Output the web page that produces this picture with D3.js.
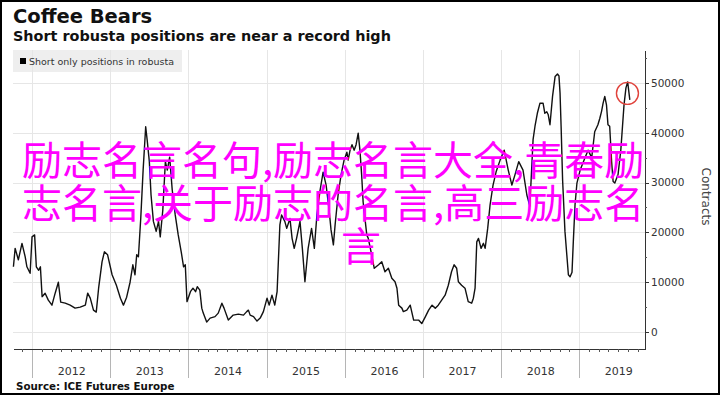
<!DOCTYPE html>
<html>
<head>
<meta charset="utf-8">
<script src="https://cdn.jsdelivr.net/npm/d3@7"></script>
<style>
  body { margin: 0; background: #fff; }
  svg { display: block; font-family: "DejaVu Sans", Verdana, sans-serif; }
  .axis path, .axis line { shape-rendering: crispEdges; }
</style>
</head>
<body>
<div class="chart"></div>
<script>
// Chart data
var titleText = "Coffee Bears";
var subtitleText = "Short robusta positions are near a record high";
var legendText = "Short only positions in robusta";
var sourceText = "Source: ICE Futures Europe";
var axisTitle = "Contracts";
var overlayLines = ["励志名言名句,励志名言大全,青春励", "志名言,关于励志的名言,高三励志名", "言"];

var years = [2012, 2013, 2014, 2015, 2016, 2017, 2018, 2019];
var yTicks = [0, 10000, 20000, 30000, 40000, 50000];

var dates = [
  "2011-10-06", "2011-10-14", "2011-10-29", "2011-11-15", "2011-11-30", "2011-12-08", "2011-12-23", "2012-01-01", "2012-01-13", "2012-01-21",
  "2012-02-01", "2012-02-09", "2012-02-17", "2012-03-02", "2012-03-17", "2012-04-03", "2012-04-18", "2012-05-03", "2012-05-14", "2012-06-04",
  "2012-06-27", "2012-07-20", "2012-08-13", "2012-09-06", "2012-09-17", "2012-09-29", "2012-10-14", "2012-10-27", "2012-11-07", "2012-11-23",
  "2012-12-04", "2012-12-19", "2013-01-09", "2013-01-29", "2013-02-17", "2013-03-03", "2013-03-18", "2013-04-03", "2013-04-16", "2013-04-26",
  "2013-05-04", "2013-05-12", "2013-05-23", "2013-06-03", "2013-06-15", "2013-06-22", "2013-07-02", "2013-07-10", "2013-07-21", "2013-08-03",
  "2013-08-14", "2013-08-22", "2013-09-03", "2013-09-15", "2013-09-24", "2013-10-05", "2013-10-17", "2013-10-31", "2013-11-14", "2013-11-28",
  "2013-12-09", "2013-12-17", "2013-12-25", "2014-01-10", "2014-01-22", "2014-02-03", "2014-02-11", "2014-02-23", "2014-03-04", "2014-03-11",
  "2014-03-27", "2014-04-12", "2014-05-05", "2014-05-20", "2014-06-06", "2014-06-16", "2014-07-06", "2014-07-29", "2014-08-22", "2014-09-15",
  "2014-09-30", "2014-10-08", "2014-10-16", "2014-11-01", "2014-11-17", "2014-12-02", "2014-12-17", "2015-01-03", "2015-01-13", "2015-01-26",
  "2015-02-08", "2015-02-19", "2015-03-04", "2015-03-12", "2015-03-27", "2015-04-05", "2015-04-20", "2015-04-30", "2015-05-10", "2015-05-21",
  "2015-06-06", "2015-06-17", "2015-06-29", "2015-07-14", "2015-07-30", "2015-08-12", "2015-08-24", "2015-09-08", "2015-09-22", "2015-10-06",
  "2015-10-20", "2015-10-29", "2015-11-09", "2015-11-17", "2015-12-01", "2015-12-15", "2015-12-29", "2016-01-11", "2016-01-17", "2016-01-26",
  "2016-02-04", "2016-02-14", "2016-02-23", "2016-03-04", "2016-03-12", "2016-03-20", "2016-03-27", "2016-04-13", "2016-04-20", "2016-05-06",
  "2016-05-18", "2016-06-07", "2016-06-22", "2016-07-07", "2016-07-23", "2016-08-08", "2016-08-23", "2016-09-01", "2016-09-09", "2016-09-24",
  "2016-10-01", "2016-10-17", "2016-11-02", "2016-11-18", "2016-12-11", "2016-12-26", "2017-01-12", "2017-01-27", "2017-02-12", "2017-02-27",
  "2017-03-13", "2017-03-29", "2017-04-14", "2017-04-29", "2017-05-14", "2017-05-26", "2017-06-07", "2017-06-15", "2017-06-30", "2017-07-16",
  "2017-07-31", "2017-08-16", "2017-08-24", "2017-09-01", "2017-09-09", "2017-09-17", "2017-09-29", "2017-10-10", "2017-10-18", "2017-10-30",
  "2017-11-10", "2017-11-24", "2017-12-08", "2017-12-27", "2018-01-15", "2018-02-03", "2018-02-20", "2018-03-06", "2018-03-24", "2018-04-13",
  "2018-05-01", "2018-05-15", "2018-05-30", "2018-06-08", "2018-06-19", "2018-07-01", "2018-07-16", "2018-07-24", "2018-08-02", "2018-08-09",
  "2018-08-17", "2018-08-29", "2018-09-10", "2018-09-21", "2018-09-28", "2018-10-03", "2018-10-08", "2018-10-15", "2018-10-26", "2018-11-11",
  "2018-11-19", "2018-11-28", "2018-12-04", "2018-12-12", "2018-12-21", "2019-01-05", "2019-01-23", "2019-02-11", "2019-02-28", "2019-03-14",
  "2019-03-29", "2019-04-07", "2019-04-15", "2019-04-22", "2019-04-30", "2019-05-08", "2019-05-15", "2019-05-23", "2019-06-01", "2019-06-08",
  "2019-06-16", "2019-07-01", "2019-07-14", "2019-07-29", "2019-08-07", "2019-08-15", "2019-08-25"
];

var shorts = [
  13100, 16800, 14500, 17800, 15100, 13100, 11800, 19100, 19500, 13100,
  12400, 13100, 7100, 7800, 6400, 5400, 7800, 10000, 6000, 5800,
  5400, 4800, 5000, 5400, 7800, 6800, 4400, 4000, 8800, 14100,
  16100, 15500, 11500, 9400, 6800, 5400, 7000, 10000, 13500, 11500,
  15500, 15100, 22900, 32500, 41200, 38500, 34200, 27500, 22200, 20200,
  22200, 19100, 24500, 34200, 32500, 35100, 28500, 23500, 19500, 16100,
  13100, 13500, 6100, 8100, 8800, 8100, 9100, 8400, 4800, 3800,
  2000, 2800, 3100, 3800, 5800, 4800, 2400, 3400, 3600, 3400,
  4100, 4400, 3400, 3100, 2200, 2800, 4100, 6800, 5400, 7400,
  5400, 8100, 21500, 23500, 22200, 20800, 22800, 18800, 16800, 18800,
  22200, 16800, 10100, 16800, 20800, 16800, 23500, 28500, 32100, 29500,
  24500, 20500, 17500, 21500, 27500, 31600, 34500, 36100, 34500, 36500,
  37600, 36500, 37600, 39900, 36500, 31600, 26100, 19500, 18800, 15500,
  12800, 13500, 14100, 12100, 12800, 10800, 10100, 8800, 5400, 4800,
  4100, 4400, 5400, 2400, 2400, 1700, 3100, 4400, 5400, 4800,
  5400, 6400, 7400, 9400, 12100, 13500, 12800, 10100, 9400, 8800,
  6100, 5800, 6800, 8800, 18100, 18800, 16800, 17800, 16800, 20800,
  25500, 29500, 32100, 34500, 36500, 32500, 29500, 31500, 34200, 32500,
  27500, 25300, 38600, 41300, 43900, 45900, 45900, 43900, 44200, 43600,
  41600, 47300, 51300, 51800, 51400, 48000, 41300, 30500, 20200, 11500,
  11100, 12000, 18100, 25500, 29900, 32500, 34500, 36500, 35000, 40200,
  41600, 42900, 44300, 45900, 47300, 45600, 41600, 41300, 34200, 30200,
  29900, 31600, 36500, 45600, 49000, 50200, 46600
];

// the circled point near the latest high
var markDate = "2019-08-14";
var markValue = 47900;

var svgWidth = 720;
var svgHeight = 395;
var plot = { left: 13, right: 645, top: 50, bottom: 349 };

var parseDate = d3.timeParse("%Y-%m-%d");
var series = dates.map(function(d, i) {
  return { date: parseDate(d), value: shorts[i] };
});

var svg = d3.select(".chart")
  .append("svg")
  .attr("width", svgWidth)
  .attr("height", svgHeight);

svg.append("rect")
  .attr("width", svgWidth)
  .attr("height", svgHeight)
  .attr("fill", "#fff");

// scales
var xScale = d3.scaleTime()
  .domain([parseDate("2011-10-04"), parseDate("2019-11-04")])
  .range([plot.left, plot.right]);
var yScale = d3.scaleLinear()
  .domain([-3400, 56600])
  .range([plot.bottom, plot.top]);

// legend box sits under the grid
svg.append("rect")
  .attr("x", plot.left)
  .attr("y", plot.top)
  .attr("width", 169)
  .attr("height", 22)
  .attr("fill", "#eeeeee");

// grid
var yearStarts = years.map(function(y) { return new Date(y, 0, 1); });

svg.append("g")
  .selectAll("line")
  .data(yTicks)
  .enter()
  .append("line")
  .attr("x1", plot.left)
  .attr("x2", plot.right)
  .attr("y1", function(d) { return Math.round(yScale(d)) + 0.5; })
  .attr("y2", function(d) { return Math.round(yScale(d)) + 0.5; })
  .attr("stroke", "#e6e6e6");

svg.append("g")
  .selectAll("line")
  .data(yearStarts)
  .enter()
  .append("line")
  .attr("x1", function(d) { return Math.round(xScale(d)) + 0.5; })
  .attr("x2", function(d) { return Math.round(xScale(d)) + 0.5; })
  .attr("y1", plot.top)
  .attr("y2", plot.bottom)
  .attr("stroke", "#e6e6e6");

// legend
svg.append("rect")
  .attr("x", 20)
  .attr("y", 58)
  .attr("width", 6)
  .attr("height", 6)
  .attr("fill", "#000");
svg.append("text")
  .attr("x", 29)
  .attr("y", 65)
  .attr("font-size", "9.5px")
  .attr("fill", "#333")
  .text(legendText);

// x axis: long year ticks, minor ticks, year labels
var minorDates = [];
for (var y = 2011; y <= 2019; y++) {
  for (var k = 1; k < 8; k++) {
    var md = new Date(y, Math.floor(k * 1.5), k % 2 ? 16 : 1);
    if (md >= xScale.domain()[0] && md <= xScale.domain()[1]) minorDates.push(md);
  }
}

var xMajor = svg.append("g")
  .attr("class", "axis")
  .attr("transform", "translate(0," + plot.bottom + ")")
  .call(d3.axisBottom(xScale).tickValues(yearStarts).tickSize(29).tickFormat("").tickSizeOuter(0));
xMajor.select(".domain").remove();
xMajor.selectAll("line").attr("stroke", "#b5b5b5");

var xMinor = svg.append("g")
  .attr("class", "axis")
  .attr("transform", "translate(0," + plot.bottom + ")")
  .call(d3.axisBottom(xScale).tickValues(minorDates).tickSize(3).tickFormat("").tickSizeOuter(0));
xMinor.select(".domain").attr("stroke", "#333");
xMinor.selectAll("line").attr("stroke", "#555");

var xLabels = svg.append("g")
  .attr("transform", "translate(0," + plot.bottom + ")")
  .call(d3.axisBottom(xScale)
    .tickValues(years.map(function(y) { return new Date(y, 6, 2); }))
    .tickSize(0)
    .tickPadding(18)
    .tickFormat(d3.timeFormat("%Y")));
xLabels.select(".domain").remove();
xLabels.selectAll("text")
  .attr("font-family", "DejaVu Sans, sans-serif")
  .attr("font-size", "11px")
  .attr("fill", "#333");

// right y axis
var yMinor = svg.append("g")
  .attr("class", "axis")
  .attr("transform", "translate(" + plot.right + ",0)")
  .call(d3.axisRight(yScale).tickValues(d3.range(0, 55001, 5000)).tickSize(2).tickFormat("").tickSizeOuter(0));
yMinor.select(".domain").attr("stroke", "#333");
yMinor.selectAll("line").attr("stroke", "#555");

var yMajor = svg.append("g")
  .attr("class", "axis")
  .attr("transform", "translate(" + plot.right + ",0)")
  .call(d3.axisRight(yScale).tickValues(yTicks).tickSize(4).tickPadding(2).tickFormat(d3.format("d")));
yMajor.select(".domain").remove();
yMajor.selectAll("line").attr("stroke", "#333");
yMajor.selectAll("text")
  .attr("font-family", "DejaVu Sans, sans-serif")
  .attr("font-size", "10.5px")
  .attr("fill", "#333");

svg.append("text")
  .attr("transform", "translate(702," + ((plot.top + plot.bottom) / 2 - 3) + ") rotate(90)")
  .attr("text-anchor", "middle")
  .attr("font-size", "12px")
  .attr("fill", "#444")
  .text(axisTitle);

// the series line
var line = d3.line()
  .x(function(d) { return xScale(d.date); })
  .y(function(d) { return yScale(d.value); });

svg.append("path")
  .datum(series)
  .attr("d", line)
  .attr("fill", "none")
  .attr("stroke", "#111")
  .attr("stroke-width", 1.4)
  .attr("stroke-linejoin", "round");

// red circle around the latest peak
svg.append("circle")
  .attr("cx", xScale(parseDate(markDate)))
  .attr("cy", yScale(markValue))
  .attr("r", 11)
  .attr("fill", "none")
  .attr("stroke", "#e0433c")
  .attr("stroke-width", 1.4);

// titles
svg.append("text")
  .attr("x", 13)
  .attr("y", 23)
  .attr("font-size", "19.5px")
  .attr("font-weight", "bold")
  .attr("fill", "#111")
  .text(titleText);
svg.append("text")
  .attr("x", 13)
  .attr("y", 41)
  .attr("font-size", "14.4px")
  .attr("font-weight", "bold")
  .attr("fill", "#111")
  .text(subtitleText);
svg.append("text")
  .attr("x", 16)
  .attr("y", 390)
  .attr("font-size", "10.3px")
  .attr("font-weight", "bold")
  .attr("fill", "#111")
  .text(sourceText);

// magenta overlay text on top of everything
var overlay = svg.append("text")
  .attr("font-family", "Noto Sans CJK SC, sans-serif")
  .attr("font-size", "40px")
  .attr("fill", "#ff00ff");
overlay.selectAll("tspan")
  .data(overlayLines)
  .enter()
  .append("tspan")
  .attr("x", function(d, i) { return i < 2 ? 22 : 361; })
  .attr("y", function(d, i) { return 175 + i * 43; })
  .attr("text-anchor", function(d, i) { return i < 2 ? "start" : "middle"; })
  .text(function(d) { return d; });

// outer frame
svg.append("rect")
  .attr("x", 1)
  .attr("y", 1)
  .attr("width", svgWidth - 2)
  .attr("height", svgHeight - 2)
  .attr("fill", "none")
  .attr("stroke", "#000")
  .attr("stroke-width", 2);
</script>
</body>
</html>
